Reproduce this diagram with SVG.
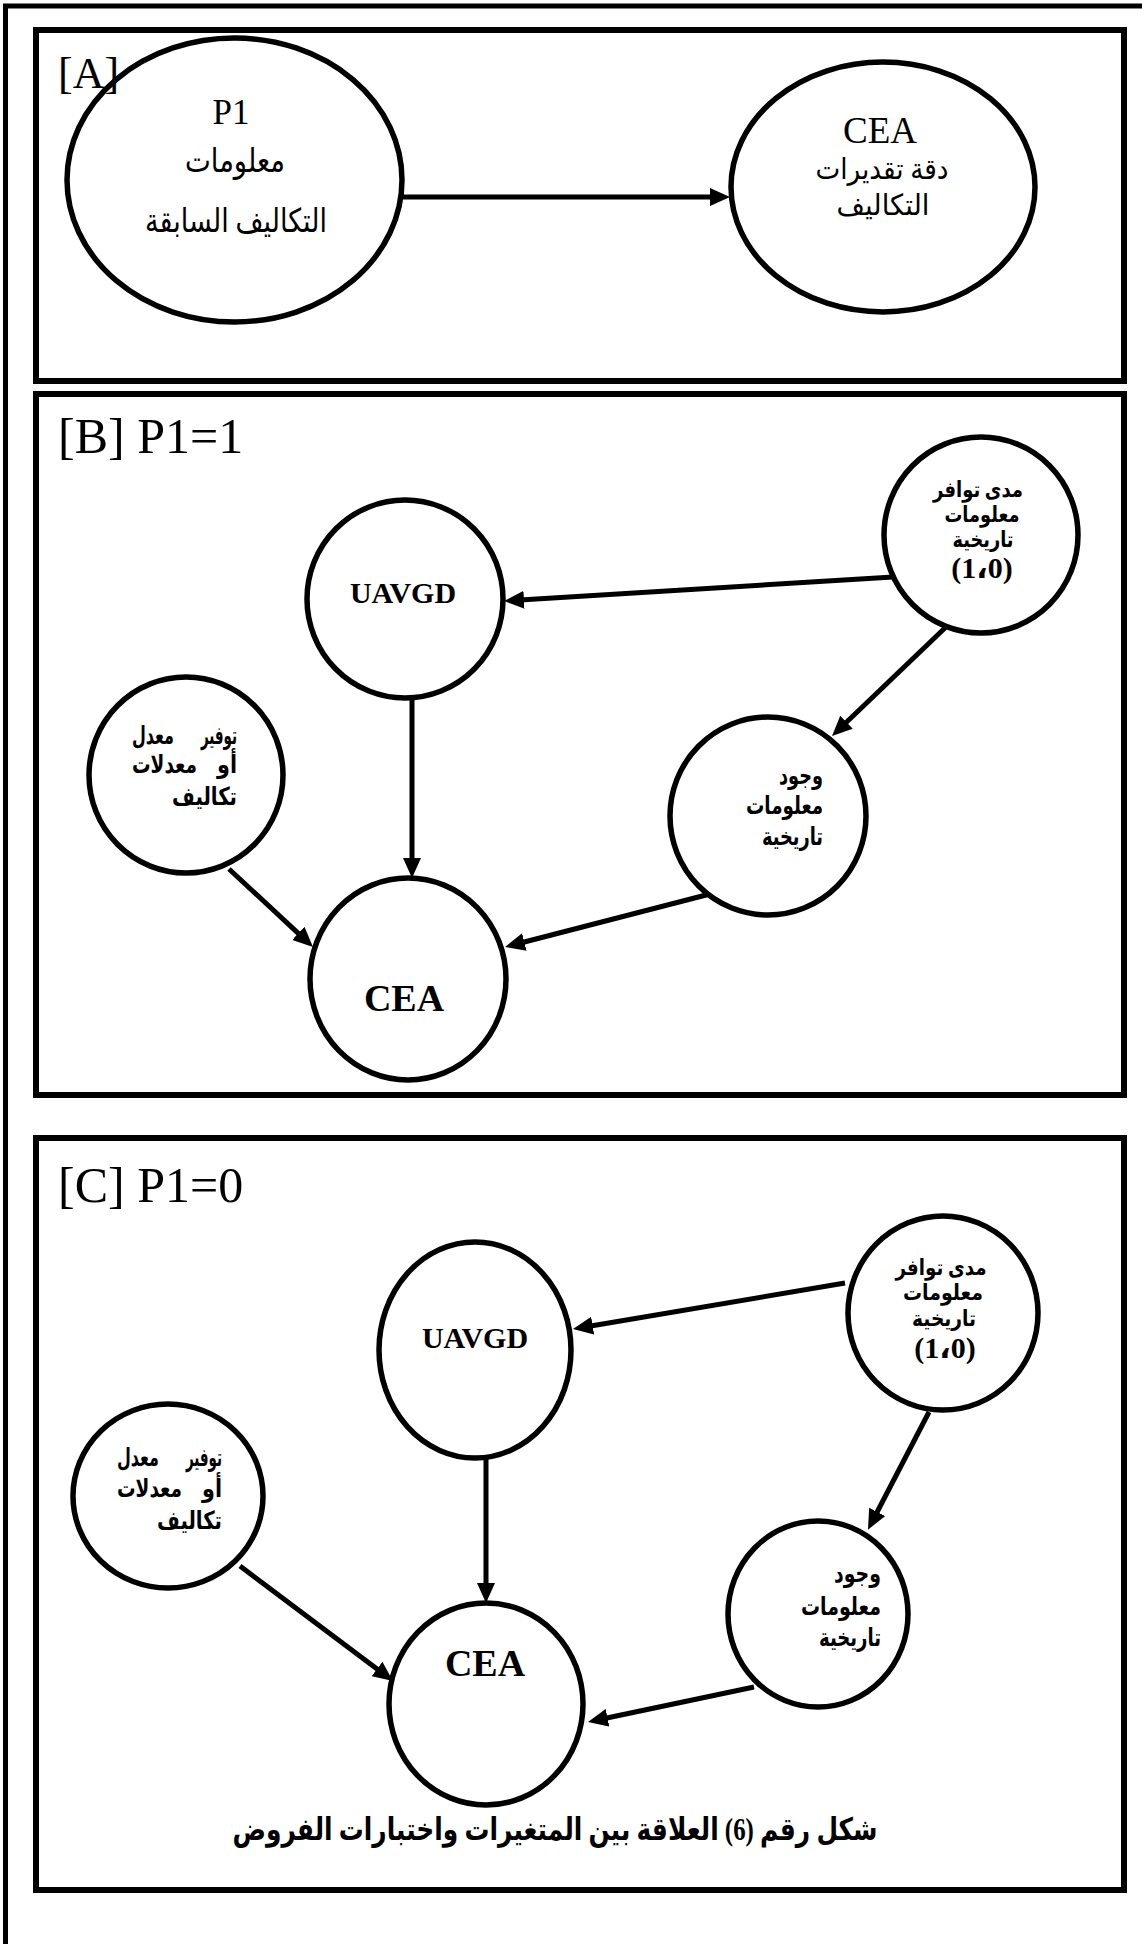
<svg xmlns="http://www.w3.org/2000/svg" width="1142" height="1944" viewBox="0 0 1142 1944">
<style>
.frame{fill:none;stroke:#000;stroke-width:5}
.box{fill:none;stroke:#000;stroke-width:6}
.node{fill:#fff;stroke:#000;stroke-width:5.5}
.edge{fill:none;stroke:#000;stroke-width:5;marker-end:url(#ah)}
.t{font-family:'Liberation Serif','DejaVu Sans',serif;fill:#000}
.b{font-weight:bold}
.ttl{font-size:50px}
.ar{font-size:25px;font-weight:bold}
.arm{font-size:22px;font-weight:bold}
.arA{font-size:33px}
.arC{font-size:29px}
</style>
<defs>
<marker id="ah" markerUnits="userSpaceOnUse" markerWidth="20" markerHeight="18" viewBox="0 0 20 18" refX="8" refY="9" orient="auto"><path d="M0,0 L20,9 L0,18 z" fill="#000"/></marker>
</defs>
<rect width="1142" height="1944" fill="#fff"/>
<path class="frame" d="M5.5,1944 V6 H1142"/>
<rect class="box" x="36" y="30" width="1088" height="351"/>
<rect class="box" x="36" y="394" width="1088" height="701"/>
<rect class="box" x="36" y="1138" width="1088" height="752"/>

<g id="connectors">
<line class="edge" x1="402" y1="197" x2="718" y2="197"/>
<line class="edge" x1="893" y1="577" x2="516" y2="600.3"/>
<line class="edge" x1="947" y1="626" x2="840.7" y2="727.7"/>
<line class="edge" x1="412" y1="698" x2="412" y2="866"/>
<line class="edge" x1="229" y1="869" x2="304.2" y2="938.8"/>
<line class="edge" x1="710" y1="894" x2="516.6" y2="944"/>
<line class="edge" x1="845" y1="1283" x2="584.8" y2="1327"/>
<line class="edge" x1="929" y1="1412" x2="873.5" y2="1519"/>
<line class="edge" x1="486" y1="1458" x2="486" y2="1591"/>
<line class="edge" x1="240" y1="1566" x2="383.4" y2="1673.8"/>
<line class="edge" x1="754" y1="1687" x2="599.7" y2="1719.5"/>
</g>

<g id="a-p1">
<ellipse class="node" cx="234.5" cy="180" rx="167.5" ry="142"/>
<text class="t" x="231" y="124" font-size="35" text-anchor="middle">P1</text>
<text class="t arA" x="235" y="172" text-anchor="middle" textLength="100" lengthAdjust="spacingAndGlyphs">معلومات</text>
<text class="t arA" x="236" y="232" text-anchor="middle" textLength="182" lengthAdjust="spacingAndGlyphs">التكاليف السابقة</text>
</g>
<g id="a-cea">
<ellipse class="node" cx="883" cy="187" rx="152" ry="125"/>
<text class="t" x="880" y="143" font-size="37" text-anchor="middle">CEA</text>
<text class="t arC" x="882" y="179" text-anchor="middle" textLength="133" lengthAdjust="spacingAndGlyphs">دقة تقديرات</text>
<text class="t arC" x="883" y="215" text-anchor="middle" textLength="93" lengthAdjust="spacingAndGlyphs">التكاليف</text>
</g>

<g id="b-uavgd">
<ellipse class="node" cx="405" cy="599" rx="98" ry="99"/>
<text class="t b" x="403" y="603" font-size="30" text-anchor="middle">UAVGD</text>
</g>
<g id="b-mada">
<ellipse class="node" cx="981" cy="535" rx="97" ry="98"/>
<text class="t arm" x="978" y="497" text-anchor="middle" textLength="90" lengthAdjust="spacingAndGlyphs">مدى توافر</text>
<text class="t arm" x="982" y="522" text-anchor="middle" textLength="75" lengthAdjust="spacingAndGlyphs">معلومات</text>
<text class="t arm" x="983" y="547" text-anchor="middle" textLength="61" lengthAdjust="spacingAndGlyphs">تاريخية</text>
<text class="t b" x="982" y="578" font-size="30" text-anchor="middle">(1،0)</text>
</g>
<g id="b-wujud">
<ellipse class="node" cx="768" cy="816" rx="98" ry="99"/>
<text class="t ar" x="823" y="784" text-anchor="end" textLength="44" lengthAdjust="spacingAndGlyphs">وجود</text>
<text class="t ar" x="823" y="814" text-anchor="end" textLength="77" lengthAdjust="spacingAndGlyphs">معلومات</text>
<text class="t ar" x="823" y="845" text-anchor="end" textLength="61" lengthAdjust="spacingAndGlyphs">تاريخية</text>
</g>
<g id="b-tawfir">
<ellipse class="node" cx="186" cy="775" rx="97" ry="98"/>
<text class="t ar" x="237" y="744" text-anchor="end" textLength="36" lengthAdjust="spacingAndGlyphs">توفير</text>
<text class="t ar" x="132" y="744" textLength="42" lengthAdjust="spacingAndGlyphs">معدل</text>
<text class="t ar" x="237" y="773" text-anchor="end" textLength="20" lengthAdjust="spacingAndGlyphs">أو</text>
<text class="t ar" x="132" y="773" textLength="65" lengthAdjust="spacingAndGlyphs">معدلات</text>
<text class="t ar" x="237" y="805" text-anchor="end" textLength="65" lengthAdjust="spacingAndGlyphs">تكاليف</text>
</g>
<g id="b-cea">
<ellipse class="node" cx="408" cy="979" rx="98" ry="101"/>
<text class="t b" x="404" y="1011" font-size="38" text-anchor="middle">CEA</text>
</g>

<g id="c-uavgd">
<ellipse class="node" cx="475" cy="1350" rx="96" ry="108"/>
<text class="t b" x="475" y="1348" font-size="30" text-anchor="middle">UAVGD</text>
</g>
<g id="c-mada">
<ellipse class="node" cx="943" cy="1313" rx="95" ry="97"/>
<text class="t arm" x="941" y="1275" text-anchor="middle" textLength="91" lengthAdjust="spacingAndGlyphs">مدى توافر</text>
<text class="t arm" x="943" y="1300" text-anchor="middle" textLength="80" lengthAdjust="spacingAndGlyphs">معلومات</text>
<text class="t arm" x="944" y="1326" text-anchor="middle" textLength="64" lengthAdjust="spacingAndGlyphs">تاريخية</text>
<text class="t b" x="945" y="1358" font-size="30" text-anchor="middle">(1،0)</text>
</g>
<g id="c-wujud">
<ellipse class="node" cx="818" cy="1614" rx="90" ry="93"/>
<text class="t ar" x="881" y="1582" text-anchor="end" textLength="47" lengthAdjust="spacingAndGlyphs">وجود</text>
<text class="t ar" x="881" y="1615" text-anchor="end" textLength="80" lengthAdjust="spacingAndGlyphs">معلومات</text>
<text class="t ar" x="881" y="1646" text-anchor="end" textLength="62" lengthAdjust="spacingAndGlyphs">تاريخية</text>
</g>
<g id="c-tawfir">
<ellipse class="node" cx="168" cy="1496" rx="95" ry="92"/>
<text class="t ar" x="222" y="1466" text-anchor="end" textLength="36" lengthAdjust="spacingAndGlyphs">توفير</text>
<text class="t ar" x="117" y="1466" textLength="42" lengthAdjust="spacingAndGlyphs">معدل</text>
<text class="t ar" x="222" y="1497" text-anchor="end" textLength="20" lengthAdjust="spacingAndGlyphs">أو</text>
<text class="t ar" x="117" y="1497" textLength="65" lengthAdjust="spacingAndGlyphs">معدلات</text>
<text class="t ar" x="222" y="1529" text-anchor="end" textLength="65" lengthAdjust="spacingAndGlyphs">تكاليف</text>
</g>
<g id="c-cea">
<ellipse class="node" cx="486" cy="1704" rx="97" ry="101"/>
<text class="t b" x="485" y="1676" font-size="38" text-anchor="middle">CEA</text>
</g>

<text class="t" x="58" y="88" font-size="44">[A]</text>
<text class="t ttl" x="58" y="453">[B] P1=1</text>
<text class="t ttl" x="58" y="1202">[C] P1=0</text>

<text class="t b" x="555" y="1840" font-size="31" text-anchor="middle" direction="rtl" textLength="645" lengthAdjust="spacingAndGlyphs">شكل رقم (6) العلاقة بين المتغيرات واختبارات الفروض</text>
</svg>
